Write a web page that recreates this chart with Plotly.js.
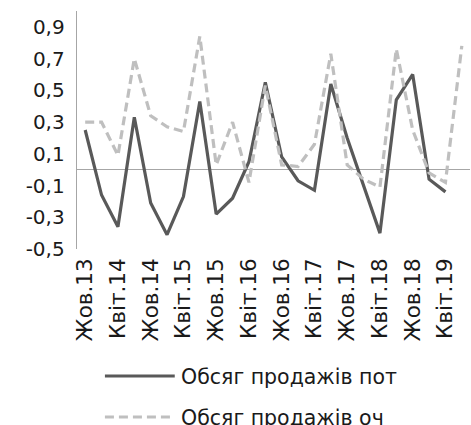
<!DOCTYPE html>
<html>
<head>
<meta charset="utf-8">
<script src="https://cdn.plot.ly/plotly-3.0.1.min.js"></script>
<style>html,body{margin:0;padding:0;background:#fff;}#chart{width:471px;height:425px;}</style>
</head>
<body>
<div id="chart"></div>
<script>
const categories = ["Жов.13","Січ.14","Квіт.14","Лип.14","Жов.14","Січ.15","Квіт.15","Лип.15",
  "Жов.15","Січ.16","Квіт.16","Лип.16","Жов.16","Січ.17","Квіт.17","Лип.17",
  "Жов.17","Січ.18","Квіт.18","Лип.18","Жов.18","Січ.19","Квіт.19","Лип.19"];
const seriesPot = [0.25,-0.16,-0.36,0.33,-0.21,-0.41,-0.17,0.43,-0.28,-0.18,0.05,0.55,
  0.08,-0.07,-0.13,0.54,0.20,-0.10,-0.40,0.44,0.60,-0.06,-0.14,null];
const seriesOch = [0.30,0.30,0.09,0.70,0.34,0.27,0.24,0.84,0.03,0.30,-0.08,0.53,
  0.03,0.02,0.16,0.73,0.03,-0.06,-0.11,0.76,0.25,-0.02,-0.08,0.78];
const seriesNames = ["Обсяг продажів пот","Обсяг продажів оч"];
const xTickLabels = ["Жов.13","Квіт.14","Жов.14","Квіт.15","Жов.15","Квіт.16","Жов.16","Квіт.17","Жов.17","Квіт.18","Жов.18","Квіт.19"];
const yTickVals = [-0.5,-0.3,-0.1,0.1,0.3,0.5,0.7,0.9];
const yTickText = ["-0,5","-0,3","-0,1","0,1","0,3","0,5","0,7","0,9"];

const FONT = "DejaVu Sans, Verdana, sans-serif";
const TEXT = "#1a1a1a";
const colors = ["#595959","#BFBFBF"];

const traces = [
  {x: categories, y: seriesPot, name: seriesNames[0], type: "scatter", mode: "lines",
   line: {color: colors[0], width: 3.2}, connectgaps: false, showlegend: false},
  {x: categories, y: seriesOch, name: seriesNames[1], type: "scatter", mode: "lines",
   line: {color: colors[1], width: 3.2, dash: "9px,5px"}, showlegend: false}
];

const PW = 394, PH = 238, PB = 249;
function py(pix) { return -(pix - PB) / PH; }

const layout = {
  width: 471, height: 425,
  margin: {l: 77, r: 1, t: 11, b: 176},
  paper_bgcolor: "#fff", plot_bgcolor: "#fff",
  font: {family: FONT, size: 20, color: TEXT},
  xaxis: {
    type: "category", categoryarray: categories, range: [-0.5, 23.5],
    tickmode: "array", tickvals: xTickLabels, ticktext: xTickLabels,
    tickangle: -90, showgrid: false, zeroline: false, showline: false, ticks: "",
    ticklabelstandoff: 4,
    tickfont: {family: FONT, size: 21.5, color: TEXT}, fixedrange: true
  },
  yaxis: {
    range: [-0.5, 1.0], tickmode: "array", tickvals: yTickVals, ticktext: yTickText,
    showgrid: false, zeroline: true, zerolinecolor: "#A6A6A6", zerolinewidth: 1.3,
    showline: true, linecolor: "#A6A6A6", linewidth: 1.3, ticks: "",
    ticklabelstandoff: 7,
    tickfont: {family: FONT, size: 20, color: TEXT}, fixedrange: true
  },
  shapes: [
    {type: "line", xref: "paper", yref: "paper", x0: 28/PW, x1: 98/PW, y0: py(376), y1: py(376),
     line: {color: colors[0], width: 3.2}},
    {type: "line", xref: "paper", yref: "paper", x0: 28/PW, x1: 98/PW, y0: py(417), y1: py(417),
     line: {color: colors[1], width: 3.2, dash: "9px,5px"}}
  ],
  annotations: [
    {xref: "paper", yref: "paper", x: 102/PW, y: py(377), xanchor: "left", yanchor: "middle",
     text: seriesNames[0], showarrow: false, font: {family: FONT, size: 20.5, color: TEXT}},
    {xref: "paper", yref: "paper", x: 102/PW, y: py(418), xanchor: "left", yanchor: "middle",
     text: seriesNames[1], showarrow: false, font: {family: FONT, size: 20.5, color: TEXT}}
  ],
  showlegend: false
};

Plotly.newPlot("chart", traces, layout, {staticPlot: true, displayModeBar: false});
</script>
</body>
</html>
